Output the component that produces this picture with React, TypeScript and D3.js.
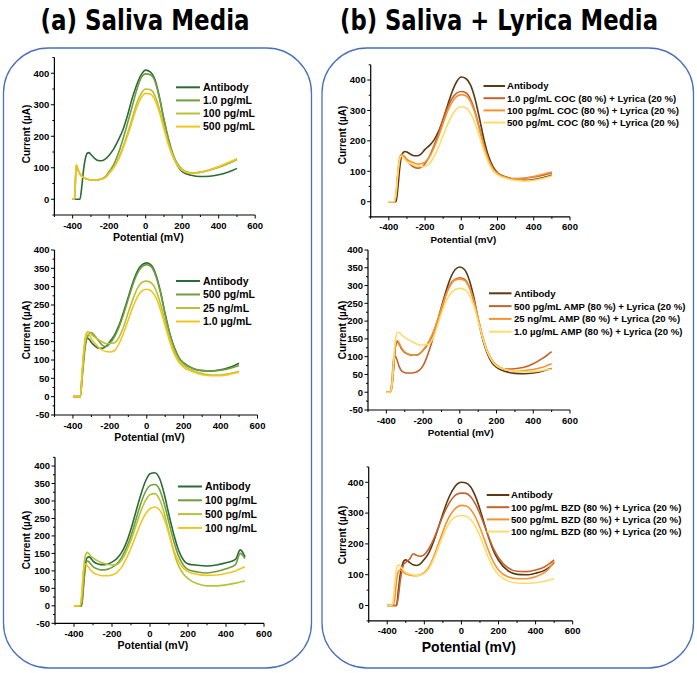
import React from "react";
import * as d3 from "d3";

// ---------- DATA ----------
const POTENTIAL = [-400,-390,-380,-370,-360,-350,-340,-330,-320,-310,-300,-280,-260,-240,-220,-200,-175,-150,-125,-100,-75,-50,-25,0,25,50,75,100,125,150,175,200,250,300,350,400,450,475,500];

const X_TICK_LABELS = [-400, -200, 0, 200, 400, 600];
const X_MINOR = [-500, -300, -100, 100, 300, 500];

// (a) Saliva media – panel 1
const A1_LABELS = ["Antibody", "1.0 pg/mL", "100 pg/mL", "500 pg/mL"];
const A1_ANTIBODY = [0,0,0,0,0,40,95,130,146,148,142, 130,123,122,128,140, 160,188,220,265,318,362,395, 410,404,382,325,252,188,138,106,88, 76,72,73,78,86,91,98];
const A1_1PG = [0,0,108,92,80,73,69,66,64,62,61, 61,62,65,72,88, 110,145,190,240,292,345,385, 398,395,376,323,255,192,143,112,95, 83,86,93,102,113,119,126];
const A1_100PG = [0,0,108,92,80,73,69,66,64,62,61, 61,62,64,70,84, 102,128,165,208,255,303,335, 350,348,330,287,232,178,137,109,93, 82,85,92,102,114,120,127];
const A1_500PG = [0,0,110,94,81,74,69,66,64,62,61, 61,62,64,69,82, 100,125,160,200,245,290,322, 336,334,316,276,224,172,134,107,92, 82,86,94,104,116,122,129];

// (a) panel 2
const A2_LABELS = ["Antibody", "500 pg/mL", "25 ng/mL", "1.0 µg/mL"];
const A2_ANTIBODY = [0,0,0,0,0,60,118,150,160,155,148, 138,132,132,138,150, 168,195,232,272,312,343,360, 365,358,332,285,225,172,133,106,92, 77,71,70,73,80,85,91];
const A2_500PG = [0,0,0,0,0,50,105,148,165,173,175, 165,152,140,137,145, 163,190,226,266,306,337,355, 360,354,328,282,222,170,131,105,91, 77,71,70,72,77,81,85];
const A2_25NG = [0,0,0,0,0,65,125,165,177,175,170, 162,155,149,145,145, 147,162,192,230,266,296,312, 315,310,290,252,203,158,122,98,85, 71,63,59,59,63,66,69];
const A2_1UG = [0,0,0,0,0,70,135,170,175,168,158, 145,134,127,123,122, 126,145,175,210,245,273,289, 293,288,270,236,192,150,116,93,80, 68,60,57,57,61,64,67];

// (a) panel 3
const A3_LABELS = ["Antibody", "100 pg/mL", "500 pg/mL", "100 ng/mL"];
const A3_ANTIBODY = [0,0,0,0,0,60,120,138,140,135,128, 121,118,118,120,125, 135,152,180,220,268,315,355, 378,381,365,320,260,205,160,132,120, 116,114,117,123,133,160,140];
const A3_100PG = [0,0,0,0,0,55,110,128,125,118,112, 106,103,103,105,110, 120,138,165,200,245,290,325, 344,347,333,292,238,185,143,117,104, 97,94,98,106,118,150,135];
const A3_500PG = [0,0,0,0,20,100,145,153,148,142,137, 130,125,121,118,117, 118,130,155,188,228,268,300, 318,321,305,265,210,155,115,92,78, 63,57,57,60,65,68,71];
const A3_100NG = [0,0,0,0,30,100,120,115,108,101,96, 90,87,86,86,88, 95,110,135,165,200,235,262, 278,283,275,248,205,160,127,108,98, 90,87,88,93,100,106,112];

// (b) Saliva + Lyrica – panel 1
const B1_LABELS = ["Antibody", "1.0 pg/mL COC (80 %) + Lyrica (20 %)", "100 pg/mL COC (80 %) + Lyrica (20 %)", "500 pg/mL COC (80 %) + Lyrica (20 %)"];
const B1_ANTIBODY = [0,0,0,0,0,45,110,150,162,165,163, 156,151,151,158,172, 185,203,232,272,318,362,395, 410,405,385,340,275,205,150,115,95, 80,72,70,73,79,83,88];
const B1_1PG = [0,0,0,0,20,90,135,148,150,145,135, 122,113,110,113,125, 150,185,225,270,310,340,357, 362,358,338,298,243,185,140,110,93, 80,76,77,81,87,91,95];
const B1_100PG = [0,0,0,0,30,100,145,155,152,146,140, 132,127,124,125,130, 148,178,215,258,298,328,346, 352,348,330,292,238,182,138,108,92, 79,75,78,83,90,94,98];
const B1_500PG = [0,0,0,0,30,95,140,150,145,138,132, 125,120,117,115,116, 125,148,180,218,255,285,305, 312,309,292,260,215,168,128,102,88, 76,70,68,70,76,80,85];

// (b) panel 2
const B2_LABELS = ["Antibody", "500 pg/mL AMP (80 %) + Lyrica (20 %)", "25 ng/mL AMP (80 %) + Lyrica (20 %)", "1.0 µg/mL AMP (80 %) + Lyrica (20 %)"];
const B2_ANTIBODY = [0,0,0,15,70,130,143,135,125,117,112, 107,104,104,108,118, 135,160,195,240,285,322,345, 352,345,318,270,205,148,108,83,70, 58,53,52,54,59,63,67];
const B2_500PG = [0,0,0,30,95,100,88,72,62,57,55, 54,54,56,62,75, 105,145,188,232,275,305,318, 322,318,298,258,205,155,115,90,76, 65,66,70,80,95,104,114];
const B2_25NG = [0,0,0,15,75,135,145,137,127,119,113, 107,104,104,108,118, 136,162,196,236,275,302,316, 318,315,297,260,208,155,115,90,75, 63,60,61,64,70,75,80];
const B2_1UG = [0,0,0,20,90,150,168,168,163,158,154, 148,142,137,133,133, 134,148,182,222,256,278,289, 292,289,275,245,200,152,113,88,74, 64,60,58,58,61,63,65];

// (b) panel 3
const B3_LABELS = ["Antibody", "100 pg/mL BZD (80 %) + Lyrica (20 %)", "500 pg/mL BZD (80 %) + Lyrica (20 %)", "100 ng/mL BZD (80 %) + Lyrica (20 %)"];
const B3_ANTIBODY = [0,0,0,0,0,0,50,100,130,145,148, 140,132,130,136,150, 172,208,252,298,340,372,393, 400,398,385,355,312,262,215,175,147, 113,101,100,105,115,125,140];
const B3_100PG = [0,0,0,0,0,0,30,80,115,135,140, 150,168,162,160,165, 185,215,252,290,323,347,361, 365,364,353,330,297,258,218,182,155, 123,111,110,115,126,136,148];
const B3_500PG = [0,0,0,0,20,80,110,115,112,107,103, 99,97,97,100,107, 125,158,198,240,277,303,319, 325,323,312,288,253,212,172,138,115, 93,87,87,93,108,122,145];
const B3_100NG = [0,0,0,10,70,118,132,128,120,113,108, 102,99,98,99,104, 120,150,187,225,258,280,290, 292,290,279,257,225,187,150,120,100, 80,73,72,74,79,83,87];

const Y_TICKS_100 = [0, 100, 200, 300, 400];
const Y_MINOR_100 = [-50, 50, 150, 250, 350, 450];
const Y_TICKS_50 = [-50, 0, 50, 100, 150, 200, 250, 300, 350, 400];

// ---------- STYLE ----------
const GREENS = ["#2d6b35", "#6f9d3f", "#b6c336", "#f1c51f"];
const BROWNS = ["#5a3913", "#c4632b", "#f6922f", "#ffdc6a"];
const FONT = "'Liberation Sans', Arial, Helvetica, sans-serif";
const NARROW = "'Liberation Sans Narrow', 'Arial Narrow', 'DejaVu Sans Condensed', 'Liberation Sans', sans-serif";

type Panel = {
  series: number[][];
  labels: string[];
  colors: string[];
  xr: [number, number];
  yd: [number, number];
  yr: [number, number];
  yTicks: number[];
  yMinor: number[];
  legend: { x0: number; x1: number; tx: number; y0: number; dy: number; fs: number };
  yTitle: { x: number; y: number };
  xTitleFs: number;
  xTitleAt: number;
};

const minor50 = (ticks: number[], top: number) => {
  const out: number[] = [];
  for (let i = 0; i < ticks.length; i++) {
    const v = ticks[i] + 25;
    if (v <= top) out.push(v);
  }
  return out;
};

const PANELS: Panel[] = [
  {
    series: [A1_ANTIBODY, A1_1PG, A1_100PG, A1_500PG], labels: A1_LABELS, colors: GREENS,
    xr: [54.4, 255.2], yd: [-50, 450], yr: [215, 57.5], yTicks: Y_TICKS_100, yMinor: Y_MINOR_100,
    legend: { x0: 176, x1: 200, tx: 203, y0: 87.3, dy: 13.1, fs: 10.5 }, yTitle: { x: 26, y: 134 }, xTitleFs: 10.5, xTitleAt: 15,
  },
  {
    series: [A2_ANTIBODY, A2_500PG, A2_25NG, A2_1UG], labels: A2_LABELS, colors: GREENS,
    xr: [54.5, 257.5], yd: [-50, 400], yr: [415, 250], yTicks: Y_TICKS_50, yMinor: minor50(Y_TICKS_50, 400),
    legend: { x0: 176, x1: 200, tx: 203, y0: 281, dy: 13.5, fs: 10.5 }, yTitle: { x: 26, y: 330 }, xTitleFs: 10.5, xTitleAt: 15,
  },
  {
    series: [A3_ANTIBODY, A3_100PG, A3_500PG, A3_100NG], labels: A3_LABELS, colors: GREENS,
    xr: [55, 264], yd: [-50, 425], yr: [623.3, 457.3], yTicks: Y_TICKS_50, yMinor: minor50(Y_TICKS_50, 425),
    legend: { x0: 178, x1: 202, tx: 205, y0: 486.5, dy: 13.8, fs: 10.5 }, yTitle: { x: 26, y: 540 }, xTitleFs: 10.5, xTitleAt: 15,
  },
  {
    series: [B1_ANTIBODY, B1_1PG, B1_100PG, B1_500PG], labels: B1_LABELS, colors: BROWNS,
    xr: [370.7, 570], yd: [-50, 450], yr: [216.9, 64.8], yTicks: Y_TICKS_100, yMinor: Y_MINOR_100,
    legend: { x0: 483.5, x1: 505, tx: 507, y0: 86, dy: 12.2, fs: 9.6 }, yTitle: { x: 342, y: 135 }, xTitleFs: 9.8, xTitleAt: 12,
  },
  {
    series: [B2_ANTIBODY, B2_500PG, B2_25NG, B2_1UG], labels: B2_LABELS, colors: BROWNS,
    xr: [368, 570], yd: [-50, 400], yr: [410, 250], yTicks: Y_TICKS_50, yMinor: minor50(Y_TICKS_50, 400),
    legend: { x0: 489, x1: 511.5, tx: 514, y0: 293.3, dy: 12.8, fs: 9.6 }, yTitle: { x: 342, y: 330 }, xTitleFs: 9.8, xTitleAt: 5,
  },
  {
    series: [B3_ANTIBODY, B3_100PG, B3_500PG, B3_100NG], labels: B3_LABELS, colors: BROWNS,
    xr: [368.7, 572.7], yd: [-50, 450], yr: [620.9, 466.9], yTicks: Y_TICKS_100, yMinor: Y_MINOR_100,
    legend: { x0: 486.7, x1: 509.3, tx: 511, y0: 495, dy: 12.2, fs: 9.6 }, yTitle: { x: 342, y: 535 }, xTitleFs: 14, xTitleAt: 40,
  },
];

function PanelView({ p }: { p: Panel }) {
  const x = d3.scaleLinear().domain([-500, 600]).range(p.xr);
  const y = d3.scaleLinear().domain(p.yd).range(p.yr);
  const line = d3
    .line<number>()
    .x((_, i) => x(POTENTIAL[i]))
    .y((d) => y(d))
    .curve(d3.curveMonotoneX);
  const ax = p.xr[0];
  const ay = p.yr[0];
  const tickFs = 9.5;
  return (
    <g>
      {p.series.map((s, i) => (
        <path key={i} d={line(s) || ""} fill="none" stroke={p.colors[i]} strokeWidth={1.6} strokeLinejoin="round" />
      ))}
      <line x1={ax} x2={ax} y1={ay} y2={p.yr[1]} stroke="#000" strokeWidth={1.2} />
      <line x1={ax} x2={p.xr[1]} y1={ay} y2={ay} stroke="#000" strokeWidth={1.2} />
      {X_TICK_LABELS.map((t) => (
        <g key={"xt" + t}>
          <line x1={x(t)} x2={x(t)} y1={ay} y2={ay + 3.5} stroke="#000" strokeWidth={1} />
          <text x={x(t)} y={ay + 13.5} fontSize={tickFs} fontWeight="bold" textAnchor="middle" fontFamily={FONT}>{t}</text>
        </g>
      ))}
      {X_MINOR.map((t) => (
        <line key={"xm" + t} x1={x(t)} x2={x(t)} y1={ay} y2={ay + 2} stroke="#000" strokeWidth={1} />
      ))}
      {p.yTicks.map((t) => (
        <g key={"yt" + t}>
          <line x1={ax - 3.5} x2={ax} y1={y(t)} y2={y(t)} stroke="#000" strokeWidth={1} />
          <text x={ax - 5} y={y(t) + 3.3} fontSize={tickFs} fontWeight="bold" textAnchor="end" fontFamily={FONT}>{t}</text>
        </g>
      ))}
      {p.yMinor.map((t) => (
        <line key={"ym" + t} x1={ax - 2} x2={ax} y1={y(t)} y2={y(t)} stroke="#000" strokeWidth={1} />
      ))}
      <text x={x(p.xTitleAt)} y={ay + (p.xTitleFs > 12 ? 31 : 26)} fontSize={p.xTitleFs} fontWeight="bold" textAnchor="middle" fontFamily={FONT}>Potential (mV)</text>
      <text transform={`translate(${p.yTitle.x + 3.5},${p.yTitle.y}) rotate(-90)`} fontSize={10} fontWeight="bold" textAnchor="middle" fontFamily={FONT}>Current (µA)</text>
      {p.labels.map((l, i) => {
        const ly = p.legend.y0 + i * p.legend.dy;
        return (
          <g key={"lg" + i}>
            <line x1={p.legend.x0} x2={p.legend.x1} y1={ly} y2={ly} stroke={p.colors[i]} strokeWidth={2} />
            <text x={p.legend.tx} y={ly + p.legend.fs * 0.36} fontSize={p.legend.fs} fontWeight="bold" fontFamily={FONT}>{l}</text>
          </g>
        );
      })}
    </g>
  );
}

export default function App() {
  return (
    <div style={{ position: "absolute", left: 0, top: 0 }}>
      <svg width={697} height={673} viewBox="0 0 697 673" style={{ display: "block", background: "#fff" }}>
        <rect x={0} y={0} width={697} height={673} fill="#fff" />
        <text x={145} y={30} fontSize={28} fontWeight="bold" fontFamily={NARROW} textAnchor="middle" textLength={209} lengthAdjust="spacingAndGlyphs">(a) Saliva Media</text>
        <text x={499} y={30} fontSize={28} fontWeight="bold" fontFamily={NARROW} textAnchor="middle" textLength={318} lengthAdjust="spacingAndGlyphs">(b) Saliva + Lyrica Media</text>
        <rect x={3.5} y={48} width={308} height={620} rx={45} ry={45} fill="none" stroke="#4a70b8" strokeWidth={1.3} />
        <rect x={322} y={48} width={371.5} height={620} rx={45} ry={45} fill="none" stroke="#4a70b8" strokeWidth={1.3} />
        {PANELS.map((p, i) => (
          <PanelView key={i} p={p} />
        ))}
      </svg>
    </div>
  );
}
